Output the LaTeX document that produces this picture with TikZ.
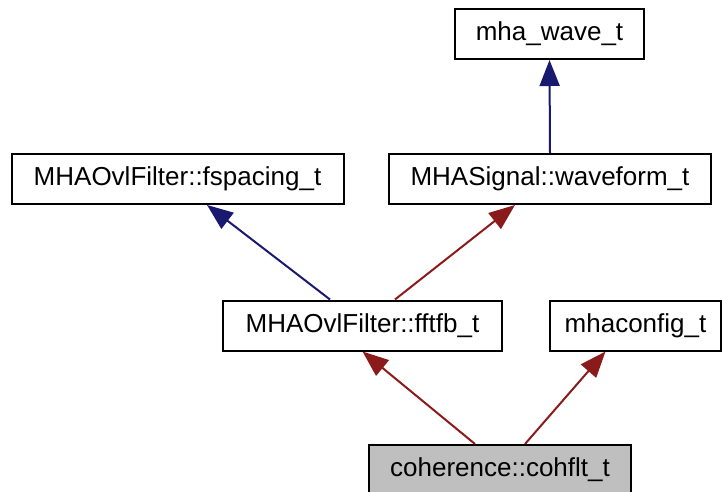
\documentclass[tikz,border=0pt]{standalone}
\usepackage{fontspec}
\setmainfont{Liberation Sans}
\usepackage{xcolor}
\usetikzlibrary{arrows.meta}

\definecolor{edgeblue}{HTML}{191970}
\definecolor{edgered}{HTML}{8B1A1A}
\definecolor{boxgray}{HTML}{BFBFBF}

\begin{document}
\begin{tikzpicture}[x=1pt, y=-1pt,
    classbox/.style={draw=black, line width=2pt, fill=white, inner sep=0pt,
        minimum height=50pt, font=\fontsize{26}{29}\selectfont},
    pubedge/.style={edgeblue, line width=2pt, {Triangle[length=26pt, width=20pt]}-},
    protedge/.style={edgered, line width=2pt, {Triangle[length=26pt, width=20pt]}-}]
    % Frame
    \useasboundingbox (0,0) rectangle (723,492);

    % Classes
    \node[classbox, minimum width=189pt] (wave) at (549.5,34) {mha\_wave\_t};
    \node[classbox, minimum width=332pt] (fspacing) at (177.5,179) {MHAOvlFilter::fspacing\_t};
    \node[classbox, minimum width=322pt] (waveform) at (550,179) {MHASignal::waveform\_t};
    \node[classbox, minimum width=279pt] (fftfb) at (362.5,325.5) {MHAOvlFilter::fftfb\_t};
    \node[classbox, minimum width=171pt] (mhaconfig) at (635.5,325.5) {mhaconfig\_t};
    \node[classbox, fill=boxgray, minimum width=262pt] (cohflt) at (500,470) {coherence::cohflt\_t};

    % Inheritance
    \draw[pubedge] (wave.south) -- (waveform.north);
    \draw[pubedge] ([xshift=29.5pt]fspacing.south) -- ([xshift=-32.5pt]fftfb.north);
    \draw[protedge] ([xshift=-35pt]waveform.south) -- ([xshift=32.5pt]fftfb.north);
    \draw[protedge] ([xshift=0pt]fftfb.south) -- ([xshift=-25pt]cohflt.north);
    \draw[protedge] ([xshift=-30pt]mhaconfig.south) -- ([xshift=25pt]cohflt.north);

\end{tikzpicture}
\end{document}
